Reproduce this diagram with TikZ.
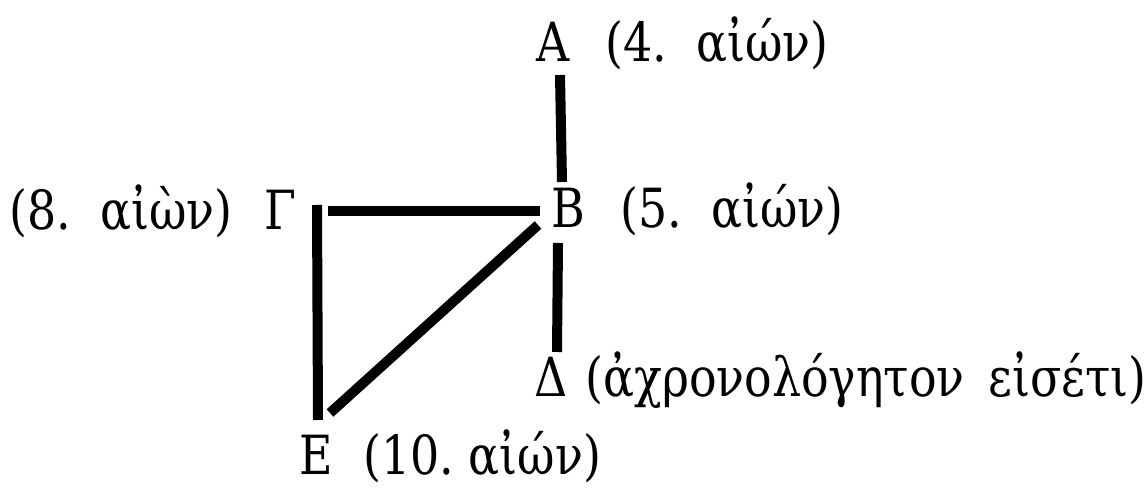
\documentclass[tikz,border=0pt]{standalone}
\usepackage{fontspec}
\setmainfont[FakeStretch=0.85]{DejaVu Serif}
\begin{document}
\begin{tikzpicture}[x=0.5pt,y=-0.5pt,
  letter/.style={anchor=base,inner sep=0pt,font=\fontsize{27}{32}\selectfont},
  lab/.style={anchor=base west,inner sep=0pt,font=\fontsize{27}{32}\selectfont},
  labl/.style={anchor=base east,inner sep=0pt,font=\fontsize{27}{32}\selectfont},
  bar/.style={line width=5pt,line cap=butt}]
\useasboundingbox[fill=white] (0,0) rectangle (1146,490);
\node[letter] (A) at (553,62) {Α};
\node[letter] (B) at (568,228) {Β};
\node[letter] (G) at (280,230) {Γ};
\node[letter] (D) at (551,397) {Δ};
\node[letter] (E) at (316,475) {Ε};
\node[lab] (Al) at (605,62) {(4.\ \ αἰών)};
\node[lab] (Bl) at (620,228) {(5.\ \ αἰών)};
\node[labl] (Gl) at (233,230) {(8.\ \ αἰὼν)};
\node[lab] (Dl) at (585,397) {(ἀχρονολόγητον\ \,εἰσέτι)};
\node[lab] (El) at (363,475) {(10.\ αἰών)};
\draw[bar] ([shift={(7,13)}]A.base) -- ([shift={(-6,-46)}]B.base);
\draw[bar] ([shift={(48,-19)}]G.base) -- ([shift={(-28,-17)}]B.base);
\draw[bar] ([shift={(-10,15)}]B.base) -- ([shift={(6,-45)}]D.base);
\draw[bar] ([shift={(37,-25)}]G.base) -- ([shift={(2,-55)}]E.base);
\draw[bar] ([shift={(14,-62)}]E.base) -- ([shift={(-30,-3)}]B.base);
\end{tikzpicture}
\end{document}
